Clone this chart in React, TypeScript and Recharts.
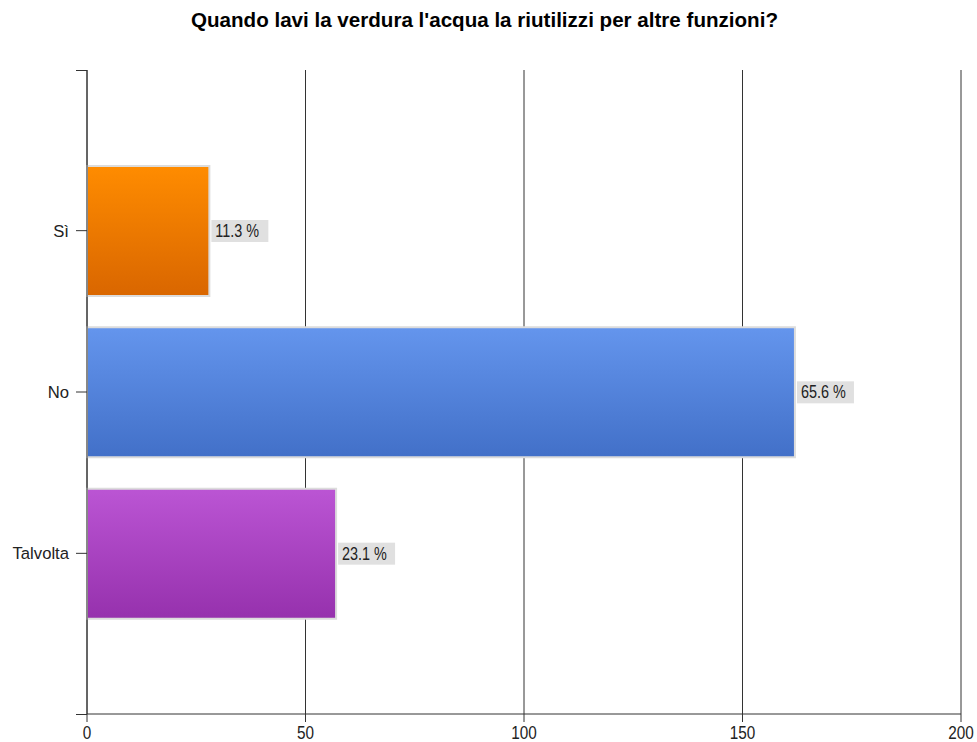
import { BarChart, Bar, XAxis, YAxis, CartesianGrid, Cell, LabelList, useOffset } from 'recharts'

const categories = ['Sì', 'No', 'Talvolta']
const counts = [28, 162, 57]
const xTicks = [0, 50, 100, 150, 200]
const topColors = ['#ff8c00', '#6495ed', '#bb55d4']
const bottomColors = ['#d96600', '#4270c8', '#9631ad']

const total = counts.reduce((a, b) => a + b, 0)
const chartData = categories.map((name, i) => ({ name, value: counts[i] }))

const FONT = '"Liberation Sans", Arial, sans-serif'

const YTick = ({ x, y, payload }: any) => (
  <g transform={`translate(${x - 5},${y}) scale(0.98,1)`}>
    <text x={0} y={0} dy={6} textAnchor="end" fontSize={17} fontFamily={FONT} fill="#222">
      {payload.value}
    </text>
  </g>
)

const XTick = ({ x, y, payload }: any) => (
  <g transform={`translate(${x},${y}) scale(0.85,1)`}>
    <text x={0} y={0} dy={15} textAnchor="middle" fontSize={18} fontFamily={FONT} fill="#222">
      {payload.value}
    </text>
  </g>
)

const PercentLabel = ({ x, y, width, height, index }: any) => {
  const pct = ((counts[index] / total) * 100).toFixed(1) + ' %'
  const bx = x + width + 2
  const cy = y + height / 2
  return (
    <g>
      <rect x={bx} y={cy - 11} width={57} height={22} fill="#e0e0e0" />
      <g transform={`translate(${bx + 4},${cy}) scale(0.8,1)`}>
        <text x={0} y={0} dy={6} fontSize={18} fontFamily={FONT} fill="#222">
          {pct}
        </text>
      </g>
    </g>
  )
}

// small extras of the original axes: the x axis line runs past 0, and a tick caps the y axis top
const AxisExtras = () => {
  const off: any = useOffset()
  if (!off) return null
  return (
    <g stroke="#333" strokeWidth={1}>
      <line x1={off.left - 11} x2={off.left} y1={off.top + 0.5} y2={off.top + 0.5} />
      <line x1={off.left - 11} x2={off.left} y1={742 - off.bottom + 0.5} y2={742 - off.bottom + 0.5} />
    </g>
  )
}

export default function App() {
  return (
    <div style={{ position: 'absolute', left: 0, top: 0, width: 977, height: 742, background: '#fff' }}>
      <div
        style={{
          position: 'absolute',
          left: 0,
          width: 968,
          top: 8,
          textAlign: 'center',
          fontFamily: FONT,
          fontWeight: 'bold',
          fontSize: 21,
          color: '#000',
        }}
      >
        <span style={{ display: 'inline-block', transform: 'scaleX(0.98)' }}>
          Quando lavi la verdura l'acqua la riutilizzi per altre funzioni?
        </span>
      </div>
      <BarChart
        width={977}
        height={742}
        data={chartData}
        layout="vertical"
        margin={{ top: 70, right: 16, left: 0, bottom: 0 }}
      >
        <defs>
          {categories.map((c, i) => (
            <linearGradient key={c} id={`grad${i}`} x1="0" y1="0" x2="0" y2="1">
              <stop offset="0%" stopColor={topColors[i]} />
              <stop offset="100%" stopColor={bottomColors[i]} />
            </linearGradient>
          ))}
        </defs>
        <CartesianGrid horizontal={false} stroke="#333" strokeDasharray="" />
        <XAxis
          type="number"
          domain={[0, 200]}
          ticks={xTicks}
          interval={0}
          axisLine={{ stroke: '#333' }}
          tickLine={{ stroke: '#333' }}
          tickSize={8}
          height={28}
          tick={<XTick />}
        />
        <YAxis
          type="category"
          dataKey="name"
          width={87}
          padding={{ top: 80, bottom: 80 }}
          axisLine={{ stroke: '#333' }}
          tickLine={{ stroke: '#333' }}
          tickSize={11}
          tick={<YTick />}
        />
        <Bar dataKey="value" barSize={130} stroke="#dcdcdc" strokeWidth={2} isAnimationActive={false}>
          {chartData.map((d, i) => (
            <Cell key={d.name} fill={`url(#grad${i})`} />
          ))}
          <LabelList dataKey="value" content={<PercentLabel />} />
        </Bar>
        <AxisExtras />
      </BarChart>
    </div>
  )
}
